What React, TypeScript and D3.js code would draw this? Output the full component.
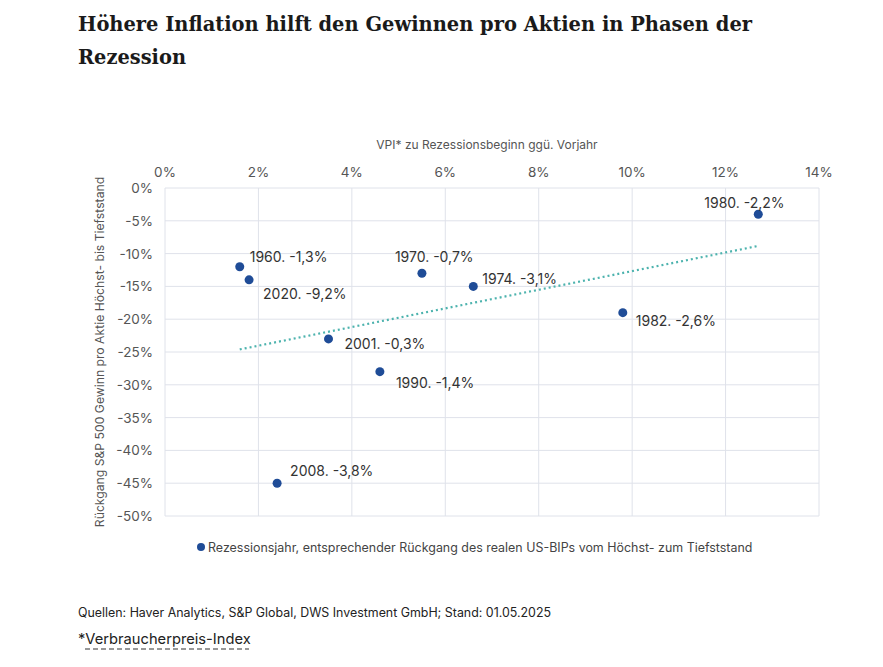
import { useEffect, useRef } from 'react';
import * as d3 from 'd3';

// Rezessionsjahre, VPI zu Rezessionsbeginn (% ggü. Vorjahr), Rückgang EPS Hoch-Tief (%)
const years = ['1960', '2020', '1970', '1974', '2001', '1990', '2008', '1982', '1980'];
const gdpDrop = ['-1,3%', '-9,2%', '-0,7%', '-3,1%', '-0,3%', '-1,4%', '-3,8%', '-2,6%', '-2,2%'];
const cpi = [1.6, 1.8, 5.5, 6.6, 3.5, 4.6, 2.4, 9.8, 12.7];
const epsDrop = [-12, -14, -13, -15, -23, -28, -45, -19, -4];

const xTicks = [0, 2, 4, 6, 8, 10, 12, 14];
const yTicks = [0, -5, -10, -15, -20, -25, -30, -35, -40, -45, -50];

// label offsets relative to the dot
const labelOffset: Record<string, [number, number]> = {
  '1960': [10, -5],
  '2020': [14, 19],
  '1970': [-27, -11],
  '1974': [9, -2],
  '2001': [16, 10],
  '1990': [16, 16],
  '2008': [13, -7],
  '1982': [13, 13],
  '1980': [-54, -6],
};

const W = 883;
const H = 667;
const font = 'Inter, "Noto Sans", sans-serif';

export default function App() {
  const ref = useRef<SVGSVGElement>(null);

  useEffect(() => {
    if (!ref.current) return;
    const svg = d3.select(ref.current);
    svg.selectAll('*').remove();

    const x = d3.scaleLinear().domain([0, 14]).range([165, 819]);
    const y = d3.scaleLinear().domain([0, -50]).range([188, 516]);

    // title
    const title = svg.append('text')
      .attr('x', 78)
      .style('font-family', '"DejaVu Serif", serif')
      .style('font-weight', '700')
      .style('font-size', '20px')
      .style('fill', '#1a1a1a');
    title.append('tspan').attr('x', 78).attr('y', 31)
      .attr('textLength', 674).attr('lengthAdjust', 'spacingAndGlyphs')
      .text('Höhere Inflation hilft den Gewinnen pro Aktien in Phasen der');
    title.append('tspan').attr('x', 78).attr('y', 64)
      .attr('textLength', 108).attr('lengthAdjust', 'spacingAndGlyphs')
      .text('Rezession');

    // grid
    const grid = svg.append('g');
    grid.selectAll('line.v').data(xTicks).join('line')
      .attr('x1', d => x(d)).attr('x2', d => x(d))
      .attr('y1', y(0)).attr('y2', y(-50))
      .attr('stroke', '#dfe2ea').attr('stroke-width', 1);
    grid.selectAll('line.h').data(yTicks).join('line')
      .attr('x1', x(0)).attr('x2', x(14))
      .attr('y1', d => y(d)).attr('y2', d => y(d))
      .attr('stroke', '#dfe2ea').attr('stroke-width', 1);

    // axes tick labels
    svg.append('g').selectAll('text').data(xTicks).join('text')
      .attr('x', d => x(d)).attr('y', 177)
      .attr('text-anchor', 'middle')
      .style('font-family', font).style('font-size', '13.5px').style('fill', '#555')
      .text(d => `${d}%`);
    svg.append('g').selectAll('text').data(yTicks).join('text')
      .attr('x', 153).attr('y', d => y(d) + 5)
      .attr('text-anchor', 'end')
      .style('font-family', font).style('font-size', '13.5px').style('fill', '#555')
      .text(d => `${d}%`);

    // axis titles
    svg.append('text')
      .attr('x', 487).attr('y', 149)
      .attr('text-anchor', 'middle')
      .style('font-family', font).style('font-size', '12px').style('fill', '#555')
      .text('VPI* zu Rezessionsbeginn ggü. Vorjahr');
    svg.append('text')
      .attr('transform', `translate(104, 352) rotate(-90)`)
      .attr('text-anchor', 'middle')
      .style('font-family', font).style('font-size', '12.2px').style('fill', '#555')
      .text('Rückgang S&P 500 Gewinn pro Aktie Höchst- bis Tiefststand');

    // linear trend
    const mx = d3.mean(cpi)!;
    const my = d3.mean(epsDrop)!;
    const slope = d3.sum(cpi, (c, i) => (c - mx) * (epsDrop[i] - my)) / d3.sum(cpi, c => (c - mx) ** 2);
    const x0 = d3.min(cpi)!;
    const x1 = d3.max(cpi)!;
    svg.append('line')
      .attr('x1', x(x0)).attr('y1', y(my + slope * (x0 - mx)))
      .attr('x2', x(x1)).attr('y2', y(my + slope * (x1 - mx)))
      .attr('stroke', '#4db3ae').attr('stroke-width', 2.2)
      .attr('stroke-dasharray', '2,3');

    // points + labels
    const idx = d3.range(years.length);
    svg.append('g').selectAll('circle').data(idx).join('circle')
      .attr('cx', i => x(cpi[i])).attr('cy', i => y(epsDrop[i]))
      .attr('r', 4.5).attr('fill', '#1f4c97');
    svg.append('g').selectAll('text').data(idx).join('text')
      .attr('x', i => x(cpi[i]) + labelOffset[years[i]][0])
      .attr('y', i => y(epsDrop[i]) + labelOffset[years[i]][1])
      .style('font-family', font).style('font-size', '14px').style('fill', '#333')
      .text(i => `${years[i]}. ${gdpDrop[i]}`);

    // legend
    svg.append('circle').attr('cx', 201).attr('cy', 547).attr('r', 4).attr('fill', '#1f4c97');
    svg.append('text')
      .attr('x', 208).attr('y', 552)
      .style('font-family', font).style('font-size', '12.45px').style('fill', '#444')
      .text('Rezessionsjahr, entsprechender Rückgang des realen US-BIPs vom Höchst- zum Tiefststand');

    // footer
    svg.append('text')
      .attr('x', 78).attr('y', 617)
      .style('font-family', font).style('font-size', '12.4px').style('fill', '#222')
      .text('Quellen: Haver Analytics, S&P Global, DWS Investment GmbH; Stand: 01.05.2025');
    svg.append('text')
      .attr('x', 78).attr('y', 644)
      .style('font-family', font).style('font-size', '14.7px').style('fill', '#222')
      .text('*Verbraucherpreis-Index');
    svg.append('line')
      .attr('x1', 85).attr('x2', 249).attr('y1', 649).attr('y2', 649)
      .attr('stroke', '#333').attr('stroke-width', 1.2).attr('stroke-dasharray', '5,3');
  }, []);

  return (
    <svg
      ref={ref}
      width={W}
      height={H}
      style={{ position: 'absolute', left: 0, top: 0, background: '#fff' }}
    />
  );
}
